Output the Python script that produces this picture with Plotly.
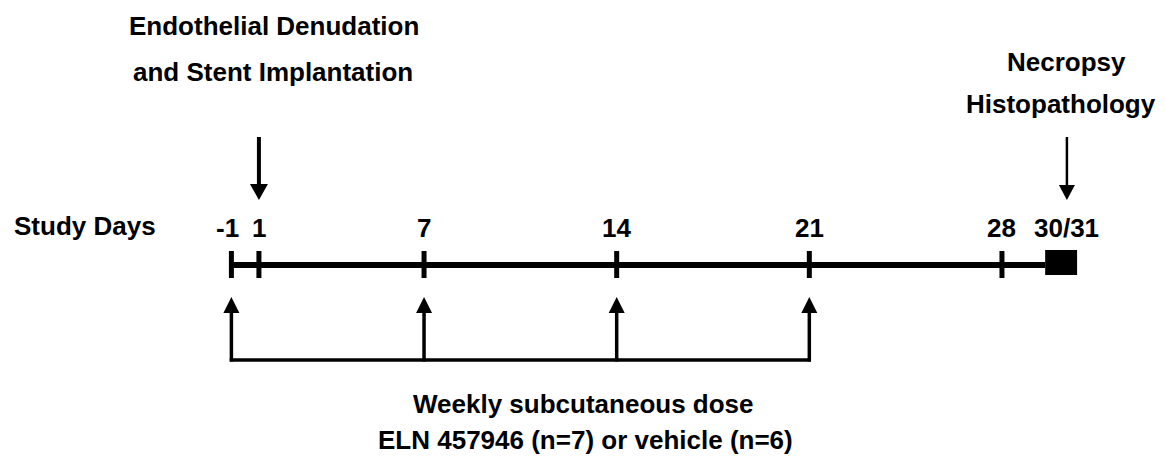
import plotly.graph_objects as go

# ---- data ----
study_days = [-1, 1, 7, 14, 21, 28]
tick_labels = ["-1", "1", "7", "14", "21", "28"]
dose_days = [-1, 7, 14, 21]
surgery_day = 1
necropsy_days = [30, 31]
necropsy_label = "30/31"

top_left_text = ["Endothelial Denudation", "and Stent Implantation"]
top_right_text = ["Necropsy", "Histopathology"]
bottom_text = ["Weekly subcutaneous dose", "ELN 457946 (n=7) or vehicle (n=6)"]
row_label = "Study Days"


def pos(day):
    # there is no study day 0: day -1 sits directly before day 1
    return day + 1 if day < 0 else day


FONT = dict(family="Liberation Sans, Arial, sans-serif", size=26, color="black", weight=700)
BLACK = "black"

# layout constants (page-pixel-like y units)
Y_LINE = 265
Y_TICK0, Y_TICK1 = 251, 278
Y_LABEL = 228
Y_UP_TIP, Y_BRACKET = 297, 360
Y_DOWN_TOP, Y_DOWN_TIP = 137, 200

x_first = pos(study_days[0])
block_c = necropsy_days[0] + 0.15
block_half = 0.58
necro_arrow_x = necropsy_days[0] + 0.36

shapes = []
# main timeline
shapes.append(dict(type="line", xref="x", yref="y", x0=x_first, x1=block_c - block_half,
                   y0=Y_LINE, y1=Y_LINE, line=dict(color=BLACK, width=6)))
# ticks
for d in study_days:
    shapes.append(dict(type="line", xref="x", yref="y", x0=pos(d), x1=pos(d),
                       y0=Y_TICK0, y1=Y_TICK1, line=dict(color=BLACK, width=5)))
# necropsy block
shapes.append(dict(type="rect", xref="x", yref="y", x0=block_c - block_half, x1=block_c + block_half,
                   y0=250, y1=275, fillcolor=BLACK, line=dict(color=BLACK, width=0)))

# dosing bracket + up arrows
shapes.append(dict(type="line", xref="x", yref="y", x0=pos(dose_days[0]) - 0.06, x1=pos(dose_days[-1]) + 0.06,
                   y0=Y_BRACKET, y1=Y_BRACKET, line=dict(color=BLACK, width=3.5)))
for d in dose_days:
    x = pos(d)
    shapes.append(dict(type="line", xref="x", yref="y", x0=x, x1=x,
                       y0=Y_BRACKET + 1.5, y1=Y_UP_TIP + 12, line=dict(color=BLACK, width=3.5)))
    shapes.append(dict(type="path", xref="x", yref="y", xsizemode="pixel", ysizemode="pixel",
                       xanchor=x, yanchor=Y_UP_TIP, path="M0,0 L-8,-16 L8,-16 Z",
                       fillcolor=BLACK, line=dict(color=BLACK, width=0)))

# surgery arrow (down)
xs = pos(surgery_day)
shapes.append(dict(type="line", xref="x", yref="y", x0=xs, x1=xs,
                   y0=Y_DOWN_TOP, y1=Y_DOWN_TIP - 12, line=dict(color=BLACK, width=4)))
shapes.append(dict(type="path", xref="x", yref="y", xsizemode="pixel", ysizemode="pixel",
                   xanchor=xs, yanchor=Y_DOWN_TIP, path="M0,0 L-9,16 L9,16 Z",
                   fillcolor=BLACK, line=dict(color=BLACK, width=0)))

# necropsy arrow (down, thinner)
shapes.append(dict(type="line", xref="x", yref="y", x0=necro_arrow_x, x1=necro_arrow_x,
                   y0=Y_DOWN_TOP, y1=Y_DOWN_TIP - 12, line=dict(color=BLACK, width=2.5)))
shapes.append(dict(type="path", xref="x", yref="y", xsizemode="pixel", ysizemode="pixel",
                   xanchor=necro_arrow_x, yanchor=Y_DOWN_TIP, path="M0,0 L-8,15 L8,15 Z",
                   fillcolor=BLACK, line=dict(color=BLACK, width=0)))

annotations = []


def add_text(text, x, y, xanchor="center"):
    annotations.append(dict(text=text, x=x, y=y, xref="x", yref="y", showarrow=False,
                            xanchor=xanchor, yanchor="middle", font=FONT))


for d, lab in zip(study_days, tick_labels):
    add_text(lab, pos(d) - (0.15 if d < 0 else 0), Y_LABEL)
add_text(necropsy_label, necro_arrow_x, Y_LABEL)
add_text(row_label, -5.32, Y_LABEL - 2)

add_text(top_left_text[0], pos(surgery_day) + 0.55, 26)
add_text(top_left_text[1], pos(surgery_day) + 0.5, 72)
add_text(top_right_text[0], necro_arrow_x, 62)
add_text(top_right_text[1], necro_arrow_x - 0.2, 104)
add_text(bottom_text[0], 12.8, 404)
add_text(bottom_text[1], 12.85, 440)

fig = go.Figure()
fig.add_trace(go.Scatter(x=[pos(d) for d in study_days], y=[Y_LINE] * len(study_days),
                         mode="markers", marker=dict(opacity=0), hoverinfo="skip", showlegend=False))

# the page body has an 8px margin: the figure is 8px smaller and the axes are
# set so that data coordinates match page pixels of the 1166x462 window
PAGE_OFF = 8
W, H = 1166 - PAGE_OFF, 462 - PAGE_OFF
px0, scale = 231.4 - PAGE_OFF, 27.52
fig.update_layout(
    width=W, height=H,
    margin=dict(l=0, r=0, t=0, b=0),
    paper_bgcolor="white", plot_bgcolor="white",
    xaxis=dict(range=[-px0 / scale, (W - px0) / scale], visible=False, fixedrange=True),
    yaxis=dict(range=[462, PAGE_OFF], visible=False, fixedrange=True),
    shapes=shapes, annotations=annotations, showlegend=False,
)

fig.write_html("out.html")
